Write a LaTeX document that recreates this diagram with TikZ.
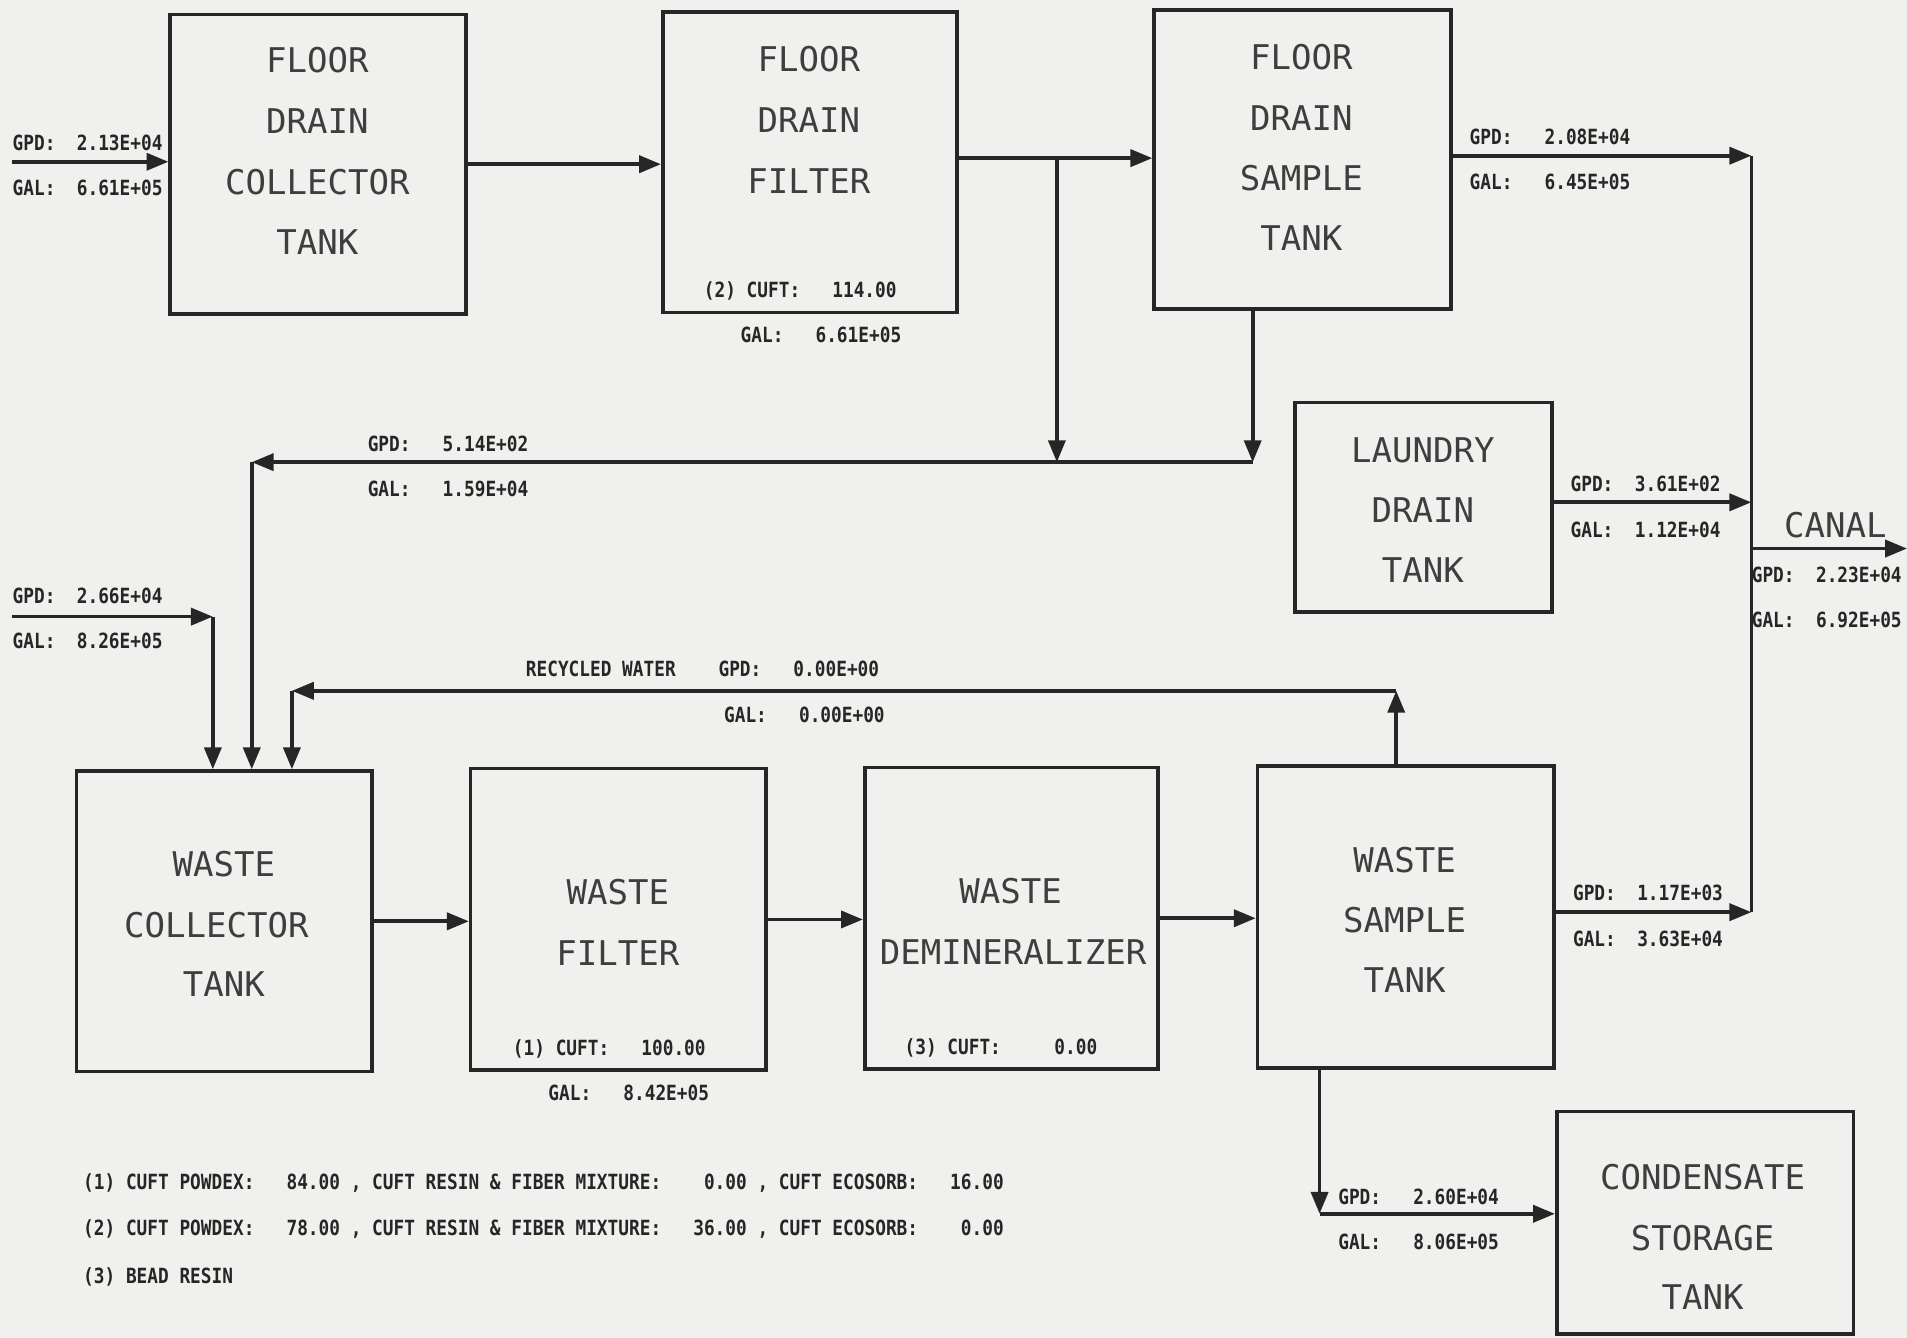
\documentclass[tikz,border=0pt]{standalone}
\usepackage{fontspec}
\usetikzlibrary{arrows.meta}
\newfontfamily\boxfont{DejaVu Sans Mono}
\newfontfamily\labfont[FakeStretch=0.85]{DejaVu Sans Mono Bold}
\definecolor{paper}{RGB}{240,240,238}
\definecolor{ink}{RGB}{38,38,38}
\definecolor{txt}{RGB}{62,62,62}
\begin{document}
\begin{tikzpicture}[x=0.5pt,y=-0.5pt,
  tank/.style={draw=ink, line width=1.5pt, rectangle, inner sep=0pt},
  flow/.style={draw=ink, line width=1.5pt, -{Triangle[length=9pt,width=7pt]}},
  plainline/.style={draw=ink, line width=1.5pt},
  bt/.style={font=\boxfont\fontsize{14}{16}\selectfont, text=txt, anchor=base, inner sep=0pt},
  lt/.style={font=\labfont\fontsize{8.6}{10}\selectfont, text=ink, anchor=base west, inner sep=0pt},
  ltc/.style={lt, anchor=base}]
\fill[paper] (0,0) rectangle (1568,1100);
\useasboundingbox (0,0) rectangle (1568,1100);

% ---- boxes ----
\node[tank, minimum width=121.5pt, minimum height=123pt] (fdct) at (261.5,135) {};
\node[tank, minimum width=121pt, minimum height=123.5pt] (fdf) at (666,133.5) {};
\node[tank, minimum width=122pt, minimum height=123pt] (fdst) at (1071,131) {};
\node[tank, minimum width=105.5pt, minimum height=86pt] (ldt) at (1170.5,417) {};
\node[tank, minimum width=121.5pt, minimum height=123.5pt] (wct) at (184.5,757.5) {};
\node[tank, minimum width=121.5pt, minimum height=124pt] (wf) at (508.5,756) {};
\node[tank, minimum width=120.5pt, minimum height=124pt] (wd) at (831.5,755) {};
\node[tank, minimum width=122pt, minimum height=124pt] (wst) at (1156,754) {};
\node[tank, minimum width=122pt, minimum height=91.5pt] (cst) at (1402,1005.5) {};

% ---- box texts ----
\node[bt] (t11) at (261,60) {FLOOR};
\node[bt] (t12) at (261,110) {DRAIN};
\node[bt] (t13) at (261,160) {COLLECTOR};
\node[bt] (t14) at (261,209) {TANK};

\node[bt] (t21) at (665,59) {FLOOR};
\node[bt] (t22) at (665,109) {DRAIN};
\node[bt] (t23) at (665,159) {FILTER};
\node[ltc] (t24) at (658,245) {(2)~CUFT:~~~114.00};
\node[ltc] (t25) at (675,282) {GAL:~~~6.61E+05};

\node[bt] (t31) at (1070,57) {FLOOR};
\node[bt] (t32) at (1070,107) {DRAIN};
\node[bt] (t33) at (1070,157) {SAMPLE};
\node[bt] (t34) at (1070,206) {TANK};

\node[bt] (t41) at (1170,380) {LAUNDRY};
\node[bt] (t42) at (1170,430) {DRAIN};
\node[bt] (t43) at (1170,479) {TANK};

\node[bt] (t51) at (184,721) {WASTE};
\node[bt] (t52) at (178,771) {COLLECTOR};
\node[bt] (t53) at (184,819) {TANK};

\node[bt] (t61) at (508,744) {WASTE};
\node[bt] (t62) at (508,794) {FILTER};
\node[ltc] (t63) at (501,868) {(1)~CUFT:~~~100.00};
\node[ltc] (t64) at (517,905) {GAL:~~~8.42E+05};

\node[bt] (t71) at (831,743) {WASTE};
\node[bt] (t72) at (833,793) {DEMINERALIZER};
\node[ltc] (t73) at (823,867) {(3)~CUFT:~~~~~0.00};

\node[bt] (t81) at (1155,717) {WASTE};
\node[bt] (t82) at (1155,767) {SAMPLE};
\node[bt] (t83) at (1155,816) {TANK};

\node[bt] (t91) at (1400,978) {CONDENSATE};
\node[bt] (t92) at (1400,1028) {STORAGE};
\node[bt] (t93) at (1400,1077) {TANK};

% ---- connectors ----
\coordinate (in1) at (10,133);
\draw[flow] (in1) -- (in1 -| fdct.west);
\draw[flow] (fdct.east) -- (fdct.east -| fdf.west);

\coordinate (j1) at (869,130);
\coordinate (j1b) at (869,380);
\draw[flow] (j1 -| fdf.east) -- (j1 -| fdst.west);
\draw[flow] (j1) -- (j1b);

\coordinate (j2) at (1030,380);
\draw[flow] (j2 |- fdst.south) -- (j2);
\coordinate (c1) at (207,380);
\draw[flow] (j2) -- (c1);
\draw[flow] (c1) -- (c1 |- wct.north);

\coordinate (in2) at (10,507);
\coordinate (c2) at (175,507);
\draw[flow] (in2) -- (c2);
\draw[flow] (c2) -- (c2 |- wct.north);

\coordinate (r1) at (1148,568);
\coordinate (r2) at (240,568);
\draw[flow] (r1 |- wst.north) -- (r1);
\draw[flow] (r1) -- (r2);
\draw[flow] (r2) -- (r2 |- wct.north);

\draw[flow] (wct.east) -- (wct.east -| wf.west);
\draw[flow] (wf.east) -- (wf.east -| wd.west);
\draw[flow] (wd.east) -- (wd.east -| wst.west);

\coordinate (k1) at (1440,128);
\coordinate (k2) at (1440,413);
\coordinate (k3) at (1440,451);
\coordinate (k4) at (1440,750);
\coordinate (canal) at (1568,451);
\draw[plainline] (k1) -- (k4);
\draw[flow] (k1 -| fdst.east) -- (k1);
\draw[flow] (k2 -| ldt.east) -- (k2);
\draw[flow] (k4 -| wst.east) -- (k4);
\draw[flow] (k3) -- (canal);

\coordinate (s1) at (1085,998);
\draw[flow] (s1 |- wst.south) -- (s1);
\draw[flow] (s1) -- (s1 -| cst.west);

% ---- flow labels ----
\node[lt] (l1a) at (10,124) {GPD:~~2.13E+04};
\node[lt] (l1b) at (10,161) {GAL:~~6.61E+05};
\node[lt] (l2a) at (1208,119) {GPD:~~~2.08E+04};
\node[lt] (l2b) at (1208,156) {GAL:~~~6.45E+05};
\node[lt] (l3a) at (302,371) {GPD:~~~5.14E+02};
\node[lt] (l3b) at (302,408) {GAL:~~~1.59E+04};
\node[lt] (l4a) at (1291,404) {GPD:~~3.61E+02};
\node[lt] (l4b) at (1291,442) {GAL:~~1.12E+04};
\node[bt] (l5) at (1509,442) {CANAL};
\node[lt] (l5a) at (1440,479) {GPD:~~2.23E+04};
\node[lt] (l5b) at (1440,516) {GAL:~~6.92E+05};
\node[lt] (l6a) at (10,496) {GPD:~~2.66E+04};
\node[lt] (l6b) at (10,533) {GAL:~~8.26E+05};
\node[lt] (l7a) at (432,556) {RECYCLED~WATER~~~~GPD:~~~0.00E+00};
\node[lt] (l7b) at (595,594) {GAL:~~~0.00E+00};
\node[lt] (l8a) at (1293,740) {GPD:~~1.17E+03};
\node[lt] (l8b) at (1293,778) {GAL:~~3.63E+04};
\node[lt] (l9a) at (1100,990) {GPD:~~~2.60E+04};
\node[lt] (l9b) at (1100,1027) {GAL:~~~8.06E+05};

% ---- footnotes ----
\node[lt] (f1) at (68,978) {(1)~CUFT~POWDEX:~~~84.00~,~CUFT~RESIN~\&~FIBER~MIXTURE:~~~~0.00~,~CUFT~ECOSORB:~~~16.00};
\node[lt] (f2) at (68,1016) {(2)~CUFT~POWDEX:~~~78.00~,~CUFT~RESIN~\&~FIBER~MIXTURE:~~~36.00~,~CUFT~ECOSORB:~~~~0.00};
\node[lt] (f3) at (68,1055) {(3)~BEAD~RESIN};
\end{tikzpicture}
\end{document}
